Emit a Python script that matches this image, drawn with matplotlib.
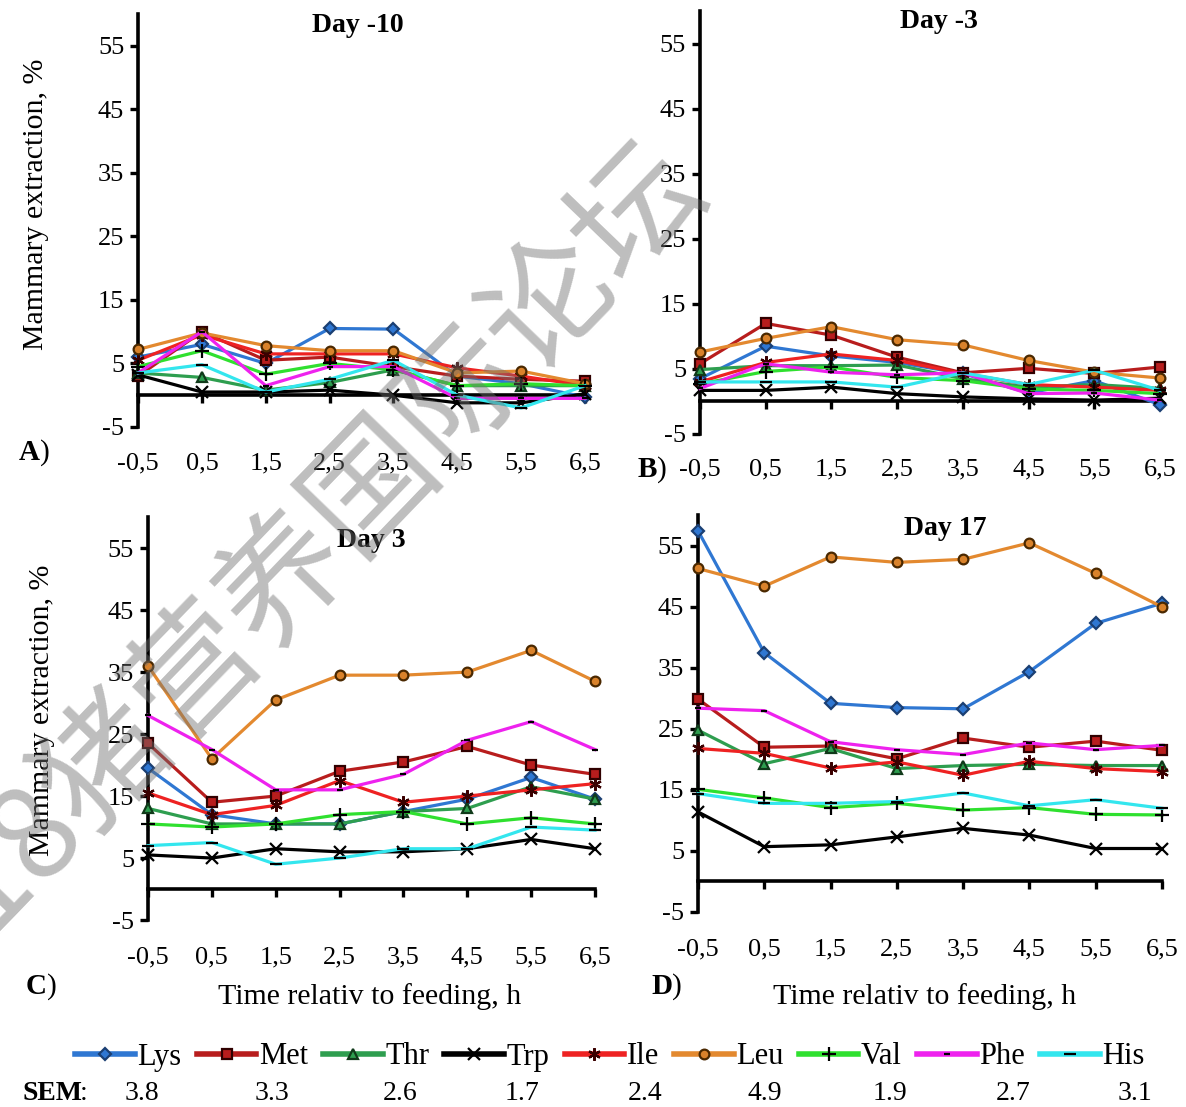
import matplotlib
matplotlib.use("Agg")
import matplotlib.pyplot as plt

plt.rcParams['font.family'] = ['Liberation Serif', 'DejaVu Serif']
plt.rcParams['axes.unicode_minus'] = False

# time points (h relative to feeding)
hours = ["-0,5", "0,5", "1,5", "2,5", "3,5", "4,5", "5,5", "6,5"]
days = ["Day -10", "Day -3", "Day 3", "Day 17"]
panel_tags = ["A", "B", "C", "D"]

# mammary extraction (%) per amino acid, one row per day
lys = [[6, 8, 5, 10.5, 10.4, 3, 1.8, -0.3],
       [3.5, 8.5, 7, 6, 4.3, 1.3, 3.2, -0.5],
       [19.5, 12, 10.5, 10.5, 12.5, 14.5, 18, 14.5],
       [57.5, 37.5, 29.2, 28.5, 28.3, 34.4, 42.3, 45.6]]
met = [[3, 10, 5.5, 6, 4.5, 3, 2.5, 2.2],
       [5.8, 12, 10.2, 6.8, 4.4, 5.1, 4.3, 5.3],
       [23.5, 14, 15, 19, 20.5, 23, 20, 18.5],
       [29.9, 22, 22.2, 20.1, 23.5, 22, 23, 21.5]]
thr = [[3.5, 2.8, 0.8, 2, 4, 1.5, 1.5, 1.5],
       [4.9, 5.5, 5.5, 5.6, 3.5, 2.2, 2.6, 2],
       [13, 10.5, 10.5, 10.5, 12.5, 13, 16.5, 14.5],
       [24.8, 19.3, 21.8, 18.5, 19, 19.2, 19, 19]]
trp = [[3.2, 0.5, 0.5, 0.8, 0, -1.2, -1.2, 0.2],
       [1.7, 1.7, 2.2, 1.2, 0.7, 0.4, 0.2, 0.5],
       [5.5, 5, 6.5, 6, 6, 6.5, 8, 6.5],
       [11.4, 5.7, 6, 7.3, 8.7, 7.6, 5.4, 5.4]]
ile = [[5.5, 9.5, 6.5, 6.5, 6.5, 4.3, 3, 1.5],
       [3, 6, 7.3, 6.3, 4.3, 2.6, 2.2, 1.7],
       [15.5, 12, 13.5, 17.5, 14, 15, 16, 17],
       [21.8, 21, 18.6, 19.6, 17.4, 19.7, 18.5, 18]]
leu = [[7.2, 9.8, 7.8, 7, 7, 3.5, 3.8, 1.8],
       [7.6, 9.7, 11.5, 9.5, 8.7, 6.3, 4.5, 3.6],
       [36, 21, 30.5, 34.5, 34.5, 35, 38.5, 33.5],
       [51.3, 48.4, 53.2, 52.3, 52.8, 55.5, 50.5, 45]]
val = [[4.5, 7, 3.3, 5, 4, 1.5, 1.8, 1.5],
       [2.7, 4.6, 5.3, 3.7, 3.2, 1.9, 1.7, 1.2],
       [10.5, 10, 10.5, 12, 12.5, 10.5, 11.5, 10.5],
       [15.1, 13.7, 12.1, 12.8, 11.7, 12.1, 11, 10.9]]
phe = [[3.5, 10, 1.5, 4.5, 4.5, -0.5, -0.5, -0.5],
       [2, 5.8, 4.5, 4.1, 4.4, 1.2, 1.3, 0.2],
       [28, 22.5, 16, 16, 18.5, 24, 27, 22.5],
       [28.4, 28, 22.9, 21.6, 20.8, 22.7, 21.6, 22.3]]
his = [[3.5, 4.8, 0.5, 2.5, 5.5, 0, -2, 1.5],
       [3, 3, 3, 2.2, 4.4, 2.6, 4.8, 1.7],
       [7, 7.5, 4, 5, 6.5, 6.5, 10, 9.5],
       [14.4, 12.8, 12.8, 13.1, 14.5, 12.4, 13.4, 12]]

sem_values = ["3.8", "3.3", "2.6", "1.7", "2.4", "4.9", "1.9", "2.7", "3.1"]

# name, data, line colour, marker, marker face, marker edge, marker size
series = [
    ("Lys", lys, "#2F77D2", "D", "#2F77D2", "#1b3f73", 6),
    ("Met", met, "#B81D1D", "s", "#B81D1D", "#300000", 7),
    ("Thr", thr, "#2E9E4F", "^", "#2E9E4F", "#103a1a", 7),
    ("Trp", trp, "#000000", "x", "none", "#000000", 8),
    ("Ile", ile, "#EE2222", (6, 2, 0), "none", "#3a0000", 9),
    ("Leu", leu, "#E3892F", "o", "#D9822B", "#4a2800", 7),
    ("Val", val, "#2FE02F", "+", "none", "#000000", 10),
    ("Phe", phe, "#EE22EE", "_", "none", "#000000", 4),
    ("His", his, "#33E6EE", "_", "none", "#000000", 8),
]

fig = plt.figure(figsize=(11.86, 11.07), dpi=100)

axes_pos = [
    [0.1164, 0.6143, 0.3769, 0.3731],
    [0.5902, 0.6080, 0.3879, 0.3817],
    [0.1248, 0.1689, 0.3769, 0.3640],
    [0.5885, 0.1762, 0.3912, 0.3582],
]
title_pos = [(0.492, 0.973), (0.52, 0.975), (0.50, 0.943), (0.532, 0.968)]
tag_pos = [(40, 453), (657, 470), (47, 987), (672, 987)]
ylabel_pos = {0: (-0.20, 0.54), 2: (-0.208, 0.52)}

x = list(range(len(hours)))
handles = []
for i, ax in enumerate([fig.add_axes(p) for p in axes_pos]):
    for name, data, color, mk, mfc, mec, ms in series:
        ln, = ax.plot(x, data[i], color=color, lw=2.3, marker=mk, markersize=ms,
                      markerfacecolor=mfc, markeredgecolor=mec, markeredgewidth=1.6,
                      clip_on=False, zorder=3)
        if i == 0:
            handles.append(ln)

    ax.set_xlim(0, 7)
    ax.set_ylim(-5, 60)
    ax.set_yticks([-5, 5, 15, 25, 35, 45, 55])
    ax.spines['top'].set_visible(False)
    ax.spines['right'].set_visible(False)
    ax.spines['left'].set_linewidth(2.6)
    ax.spines['bottom'].set_position(('data', 0))
    ax.spines['bottom'].set_linewidth(2.6)
    ax.spines['bottom'].set_zorder(2)
    ax.set_xticks(x)
    ax.set_xticklabels(hours)
    ax.tick_params(axis='y', direction='out', length=6, width=2.4, labelsize=19, pad=4)
    ax.tick_params(axis='x', direction='out', length=6, width=2.4, labelsize=19, pad=35)
    ax.text(title_pos[i][0], title_pos[i][1], days[i], transform=ax.transAxes,
            ha='center', va='center', fontsize=20, fontweight='bold')

    tx, ty = tag_pos[i]
    fig.text(tx / 1186, 1 - ty / 1107, panel_tags[i], fontsize=21, fontweight='bold',
             ha='right', va='center')
    fig.text(tx / 1186, 1 - ty / 1107, ")", fontsize=21, ha='left', va='center')

    if i in ylabel_pos:
        ax.set_ylabel("Mammary extraction, %", fontsize=21.5)
        ax.yaxis.set_label_coords(*ylabel_pos[i])

fig.text(370 / 1186, 1 - 997 / 1107, "Time relativ to feeding, h", fontsize=21.5,
         ha='center', va='center')
fig.text(925 / 1186, 1 - 997 / 1107, "Time relativ to feeding, h", fontsize=21.5,
         ha='center', va='center')

# legend row + SEM row
leg = fig.legend(handles=handles, labels=[s[0] for s in series], loc='center',
                 bbox_to_anchor=(610 / 1186, 1 - 1057 / 1107), ncol=9, frameon=False,
                 fontsize=22, handlelength=1.95, handletextpad=0.08, columnspacing=0.5,
                 borderpad=0)
for h in leg.legend_handles:
    h.set_linewidth(4)

fig.text(22 / 1186, 1 - 1093 / 1107, "SEM", fontsize=20, fontweight='bold',
         ha='left', va='center')
fig.text(80 / 1186, 1 - 1093 / 1107, ":", fontsize=20, ha='left', va='center')
sem_x = [142, 272, 400, 522, 645, 765, 890, 1013, 1135]
for sx, sv in zip(sem_x, sem_values):
    fig.text(sx / 1186, 1 - 1093 / 1107, sv, fontsize=20, ha='center', va='center')

# forum watermark across the figure
fig.text(684 / 1186, 1 - 166 / 1107, "2018猪营养国际论坛", fontsize=92,
         family=['Noto Sans CJK SC', 'DejaVu Sans'], color='#6f6f6f', alpha=0.45,
         rotation=46, rotation_mode='anchor', ha='right', va='center', zorder=10)

fig.savefig("out.png", dpi=100)
